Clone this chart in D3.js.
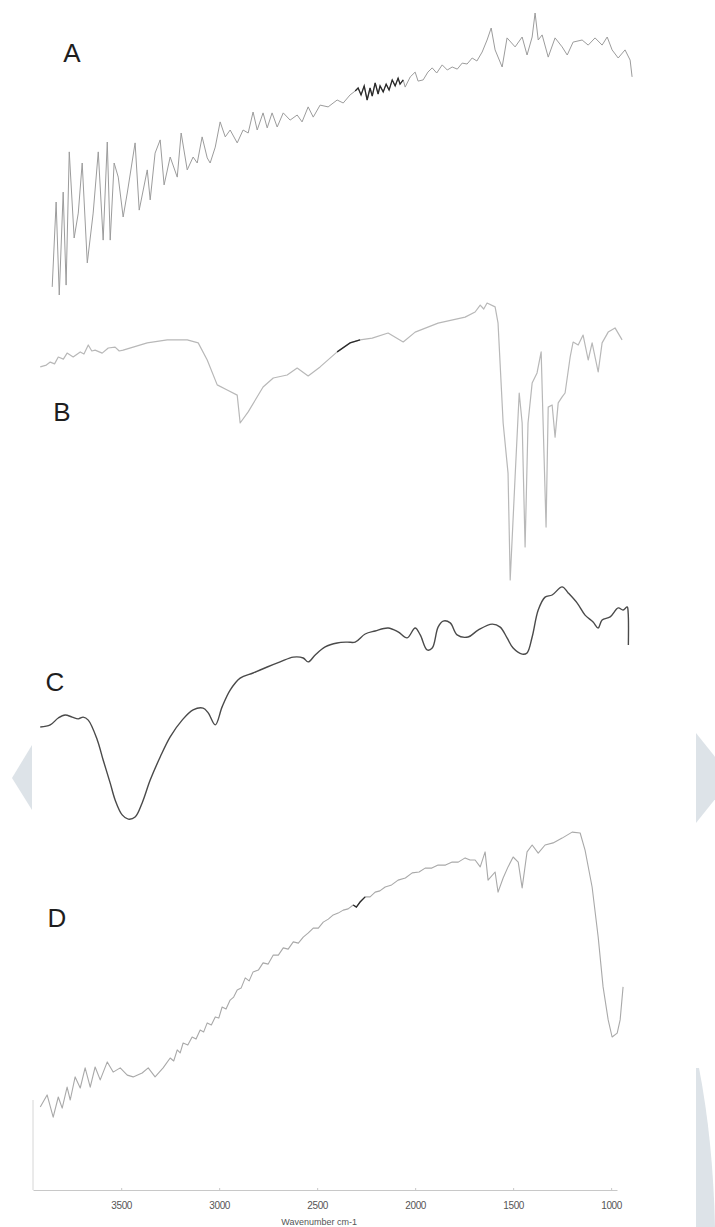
<!DOCTYPE html>
<html>
<head>
<meta charset="utf-8">
<script src="https://cdn.jsdelivr.net/npm/d3@7"></script>
<style>
  body { margin: 0; background: #fff; }
  svg { display: block; }
</style>
</head>
<body>
<div id="chart"></div>
<script>
// each trace: [wavenumber cm-1, transmittance %]
var specA = [[3852,7.7],[3832,36],[3816,5],[3796,39.3],[3781,8.3],[3765,52.7],[3740,24],[3719,32.3],[3699,49],
  [3673,15.7],[3643,32.3],[3617,52.7],[3592,23.3],[3571,56],[3556,23.3],[3536,49],[3515,44.3],[3490,31],
  [3469,39],[3429,55.7],[3408,33.3],[3367,46.7],[3352,36.7],[3327,52.3],[3301,56.7],[3281,41.7],[3250,51],
  [3214,44.3],[3194,59],[3163,46.7],[3133,51],[3112,49],[3087,57.7],[3061,50.7],[3046,49],[3020,54.3],
  [2995,62.7],[2969,57.7],[2944,60],[2908,55.7],[2878,60],[2852,59],[2827,66],[2806,60],[2776,65.7],
  [2755,60.7],[2730,65.7],[2704,61],[2673,65.7],[2638,63.3],[2602,65],[2577,62.7],[2546,67.7],[2520,64.3],
  [2485,68.3],[2444,67.7],[2398,70],[2367,69],[2332,71.7],[2306,73],[2291,74],[2276,71.7],[2260,74.7],
  [2245,70],[2230,74],[2219,71.3],[2204,75.7],[2189,72],[2179,74.7],[2163,72.7],[2148,75.3],[2133,73.3],
  [2117,76.7],[2102,74.7],[2087,77.3],[2077,75.3],[2061,76.7],[2051,74.3],[2025,77.7],[2000,79.3],
  [1985,76.3],[1959,76.7],[1935,79.3],[1913,80.7],[1890,79],[1862,81.7],[1836,80],[1811,81],[1785,80.3],
  [1760,82.3],[1735,82],[1709,84],[1685,83],[1658,86],[1633,90],[1612,94],[1592,86.7],
  [1556,81],[1531,90.7],[1490,87.7],[1454,91],[1429,85],[1403,91],[1388,99],[1372,90],[1352,91.7],
  [1321,84.3],[1286,90.7],[1250,87.7],[1224,85],[1194,89.3],[1148,90],[1117,88.3],[1082,90.7],[1046,88.3],
  [1020,91],[995,86.7],[964,84],[929,86.7],[903,83.3],[893,77.7]];

var specB = [[3913,77.7],[3882,78.3],[3862,79.3],[3840,78.7],[3821,81],[3795,80.3],[3776,82.3],[3745,81],
  [3709,82.7],[3690,82],[3668,85],[3650,83],[3633,83.3],[3597,82.3],[3566,84],[3531,84.3],[3510,83],
  [3490,83.3],[3439,84.3],[3367,85.7],[3265,86.7],[3163,86.7],[3107,85.7],
  [3061,80],[3010,71.7],[2959,70],[2908,68.3],[2893,59],[2852,62.7],[2776,71],[2724,74],[2653,75],
  [2602,77.3],[2546,74.7],[2485,77.7],[2398,82.7],[2332,85.7],[2281,86.7],[2219,87.3],[2138,89],[2061,86],
  [2000,89.3],[1883,92.3],[1745,94.3],[1694,96],[1668,98.3],[1650,97],[1633,99],[1592,97.7],[1577,92.3],[1551,59],
  [1526,42.3],[1515,6.7],[1490,41],[1469,69],[1454,59],[1439,17.7],[1424,59],[1403,72.3],[1378,75.7],
  [1357,82.7],[1347,59],[1332,24.3],[1321,64.3],[1301,65],[1286,54.3],[1270,65.7],[1250,67.7],[1235,69],
  [1209,81],[1194,86],[1168,85],[1143,88.3],[1117,80],[1097,85.7],[1066,76],[1046,85.7],[1015,89.3],
  [980,90.7],[944,86.7]];

var specC = [[3913,41],[3862,41.7],[3821,44],[3786,45],[3750,44.3],[3719,43.7],[3694,44.3],[3668,43.3],
  [3622,36.7],[3592,30],[3556,22.3],[3531,16.7],[3495,11.7],[3464,10.3],[3429,11],[3393,15.7],[3352,23.3],
  [3301,31],[3250,37.7],[3189,43.3],[3133,46.7],[3082,47.3],[3056,45.7],[3020,41.7],[2985,47.7],[2944,53.3],
  [2893,57.3],[2827,59],[2755,61],[2689,62.7],[2622,64.3],[2571,64],[2546,62.7],[2510,65],[2459,67.7],
  [2398,69],[2347,69.3],[2306,69.3],[2255,72],[2204,73],[2138,74],[2087,72.7],[2041,70.7],[2000,74],
  [1974,71.7],[1939,66.7],[1913,67.3],[1883,74.3],[1857,76.3],[1821,75.7],[1786,71.7],[1730,71],
  [1679,73.3],[1607,75.3],[1566,74.3],[1531,70.7],[1500,67.3],[1454,65.3],[1429,65.7],[1403,71],[1372,80],
  [1337,84.3],[1301,85],[1250,87.7],[1219,85.7],[1173,82.3],[1133,78.3],[1092,76],[1066,74],[1046,76.7],
  [1005,77.7],[964,80.7],[939,80],[918,81],[913,79],[912,68.3]];

var specD = [[3913,7.7],[3878,11.7],[3847,4.3],[3821,11],[3801,7.3],[3776,14.3],[3760,10],[3735,17.7],
  [3709,14],[3684,20.7],[3658,14.3],[3633,21],[3607,16.7],[3571,22.7],[3541,19.3],[3505,20.7],[3469,18.3],
  [3439,17.7],[3393,19],[3362,20.7],[3327,17.7],[3286,20.7],[3250,24],[3232,23],[3214,26.7],[3199,25.7],
  [3184,29],[3160,28.3],[3138,31],[3118,30.3],[3097,33.3],[3079,32.7],[3061,35.7],[3040,35],[3020,37.7],
  [3002,37.3],[2985,41],[2965,40.3],[2944,43.3],[2926,44.3],[2908,46.7],[2888,47.3],[2867,50.7],
  [2847,49.7],[2827,52.7],[2800,53.3],[2776,55.7],[2750,55.3],[2724,58.3],[2698,58.3],[2673,60.7],
  [2648,60.3],[2622,62.7],[2596,62.3],[2571,64.3],[2545,65.7],[2520,67.3],[2494,67.3],[2469,69.3],
  [2443,70.3],[2418,71.7],[2393,72.3],[2367,73.3],[2342,73.7],[2316,75],[2300,74.3],
  [2281,76],[2255,77.7],[2230,77.7],[2204,79.3],[2180,79.7],[2153,81],[2120,81.7],[2087,83.3],[2050,84],
  [2015,85.7],[1980,86],[1949,87.3],[1915,87.3],[1883,88.3],[1845,88.3],[1811,89.3],[1780,89.3],
  [1745,90.7],[1720,90],[1694,90],[1668,87.7],[1643,92.7],[1628,83.3],[1592,86],[1577,79.3],[1551,84],[1526,87.7],
  [1500,91],[1474,89.3],[1454,80.7],[1429,92.7],[1403,95],[1372,92.3],[1337,95],[1296,95.7],[1250,97.3],
  [1199,99.3],[1158,99],[1133,93.3],[1097,81],[1066,64.3],[1041,47.7],[1015,36.7],[995,31],[969,32.3],
  [954,36.7],[939,47.7]];

var panelLabels = ["A", "B", "C", "D"];
// wavenumber stretches printed darker in the original
var darkRanges = [[2310, 2055], [2400, 2270], [4000, 800], [2330, 2240]];
var tickValues = [3500, 3000, 2500, 2000, 1500, 1000];
var axisTitle = "Wavenumber cm-1";

var width = 715, height = 1227;

var svg = d3.select("#chart").append("svg")
  .attr("width", width)
  .attr("height", height);

// background arrows / page shapes of the scan
var deco = svg.append("g").attr("fill", "#dde3e8");
deco.append("path").attr("d", "M12,778 L32,745 L32,810 Z");
deco.append("path").attr("d", "M696,733 L732,778 L696,823 Z");
deco.append("path").attr("d", "M696,1068 L699,1068 Q713,1140 715,1227 L696,1227 Z");

// x scale shared by all traces
var x = d3.scaleLinear()
  .domain([3950, 970])
  .range([33, 617]);

// every trace has its own vertical band
var bases = [310, 600, 850, 1130];
var styles = [
  {color: "#9c9c9c", w: 1, curve: d3.curveLinear},
  {color: "#b8b8b8", w: 1.2, curve: d3.curveLinear},
  {color: "#4a4a4a", w: 1.4, curve: d3.curveCatmullRom.alpha(0.5)},
  {color: "#a9a9a9", w: 1.1, curve: d3.curveLinear}
];
var labelPos = [[72, 62], [62, 421], [55, 691], [57, 927]];
var series = [specA, specB, specC, specD];

series.forEach(function(data, i) {
  var y = d3.scaleLinear().domain([0, 100]).range([bases[i], bases[i] - 300]);
  var line = d3.line()
    .curve(styles[i].curve)
    .x(function(d) { return x(d[0]); })
    .y(function(d) { return y(d[1]); });

  svg.append("path")
    .datum(data)
    .attr("fill", "none")
    .attr("stroke", styles[i].color)
    .attr("stroke-width", styles[i].w)
    .attr("stroke-linejoin", "round")
    .attr("d", line);

  var r = darkRanges[i];
  var dark = data.filter(function(d) { return d[0] <= r[0] && d[0] >= r[1]; });
  if (i != 2) {
    svg.append("path")
      .datum(dark)
      .attr("fill", "none")
      .attr("stroke", "#2a2a2a")
      .attr("stroke-width", 1.3)
      .attr("d", line);
  }

  svg.append("text")
    .attr("x", labelPos[i][0])
    .attr("y", labelPos[i][1])
    .attr("text-anchor", "middle")
    .attr("font-family", "Liberation Sans, Arial, sans-serif")
    .attr("font-size", 26)
    .attr("fill", "#1e1e1e")
    .text(panelLabels[i]);
});

// left frame line near the axis
svg.append("line")
  .attr("x1", x(3950)).attr("x2", x(3950))
  .attr("y1", 1100).attr("y2", 1190)
  .attr("stroke", "#d6d6d6");

// bottom axis
var axis = svg.append("g")
  .attr("transform", "translate(0,1190)")
  .call(d3.axisBottom(x).tickValues(tickValues).tickFormat(d3.format("d"))
    .tickSize(2).tickPadding(10).tickSizeOuter(0));
axis.select(".domain").attr("stroke", "#c8c8c8");
axis.selectAll(".tick line").attr("stroke", "#c8c8c8").attr("y2", -2);
axis.selectAll("text")
  .attr("font-family", "Liberation Sans, Arial, sans-serif")
  .attr("font-size", 10)
  .attr("letter-spacing", -0.4)
  .attr("fill", "#555");

svg.append("text")
  .attr("x", x(2500) + 2)
  .attr("y", 1225)
  .attr("text-anchor", "middle")
  .attr("font-family", "Liberation Sans, Arial, sans-serif")
  .attr("font-size", 9)
  .attr("fill", "#555")
  .text(axisTitle);
</script>
</body>
</html>
